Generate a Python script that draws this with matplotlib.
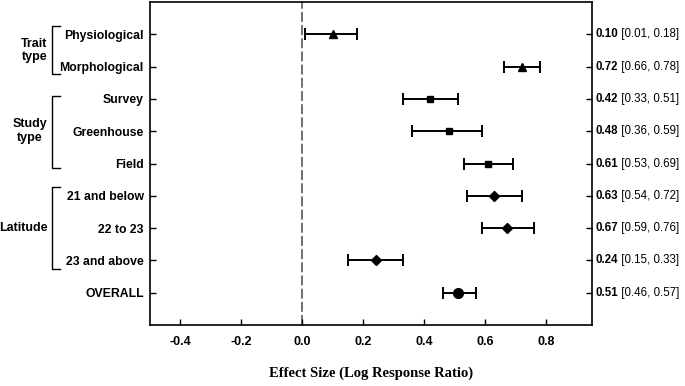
import matplotlib.pyplot as plt
import matplotlib.transforms as mtransforms

labels = ['Physiological', 'Morphological', 'Survey', 'Greenhouse', 'Field',
          '21 and below', '22 to 23', '23 and above', 'OVERALL']
effect = [0.10, 0.72, 0.42, 0.48, 0.61, 0.63, 0.67, 0.24, 0.51]
ci_low = [0.01, 0.66, 0.33, 0.36, 0.53, 0.54, 0.59, 0.15, 0.46]
ci_high = [0.18, 0.78, 0.51, 0.59, 0.69, 0.72, 0.76, 0.33, 0.57]
markers = ['^', '^', 's', 's', 's', 'D', 'D', 'D', 'o']
marker_sizes = [5.5, 5.5, 5, 5, 5, 5, 5, 5, 7]
groups = [('Trait\ntype', 0, 1), ('Study\ntype', 2, 4), ('Latitude', 5, 7)]
xticks = [-0.4, -0.2, 0.0, 0.2, 0.4, 0.6, 0.8]

# bracket overhang above/below the first/last row of each group
bracket_pad = [(0.25, 0.22), (0.1, 0.15), (0.28, 0.28)]

sans = ['Liberation Sans', 'DejaVu Sans']
serif = ['Liberation Serif', 'DejaVu Serif']

fig = plt.figure(figsize=(6.85, 3.86), dpi=100)
ax = fig.add_axes([150 / 685, 61 / 386, 442 / 685, 323 / 386])

ypos = list(range(1, len(labels) + 1))
ax.axvline(0, color='#666666', linestyle=(0, (5.5, 1.8)), linewidth=1.3, zorder=1)

for y, e, lo, hi, m, ms in zip(ypos, effect, ci_low, ci_high, markers, marker_sizes):
    ax.errorbar(e, y, xerr=[[e - lo], [hi - e]], fmt=m, color='black',
                markersize=ms, capsize=4.5, capthick=1.4, elinewidth=1.4, zorder=3)

ax.set_xlim(-0.5, 0.95)
ax.set_ylim(len(labels) + 1, 0)
ax.set_xticks(xticks)
ax.set_xticklabels([f'{t:.1f}' for t in xticks], fontfamily=sans,
                   fontweight='bold', fontsize=9)
ax.set_yticks(ypos)
ax.set_yticklabels(labels, fontfamily=sans, fontweight='bold', fontsize=8.8)
ax.tick_params(axis='x', direction='in', length=4, width=1, pad=8)
ax.tick_params(axis='y', direction='in', length=4, width=1, pad=4.5,
               right=True)
for s in ax.spines.values():
    s.set_linewidth(1.2)

ax.set_xlabel('Effect Size (Log Response Ratio)', fontfamily=serif,
              fontweight='bold', fontsize=10.5, labelpad=13)

# estimate text on the right side
trans = mtransforms.blended_transform_factory(ax.transAxes, ax.transData)
for y, e, lo, hi in zip(ypos, effect, ci_low, ci_high):
    t = ax.text(1.008, y, f'{e:.2f}', transform=trans, ha='left', va='center',
                fontfamily=sans, fontweight='bold', fontsize=8.3)
    ax.annotate(f' [{lo:.2f}, {hi:.2f}]', xy=(1, 0.5), xycoords=t,
                ha='left', va='center', fontfamily=sans, fontsize=8.3)

# group brackets and labels
ftrans = mtransforms.blended_transform_factory(fig.transFigure, ax.transData)
bx = 52 / 685
bw = 8 / 685
for (name, i0, i1), (pt, pb) in zip(groups, bracket_pad):
    y0 = ypos[i0] - pt
    y1 = ypos[i1] + pb
    ax.plot([bx + bw, bx, bx, bx + bw], [y0, y0, y1, y1], color='black',
            linewidth=1, transform=ftrans, clip_on=False)
    ax.text(47.5 / 685, (ypos[i0] + ypos[i1]) / 2, name, transform=ftrans,
            ha='right', va='center', fontfamily=sans, fontweight='bold',
            fontsize=9, multialignment='center')

fig.savefig('out.png', dpi=100)
